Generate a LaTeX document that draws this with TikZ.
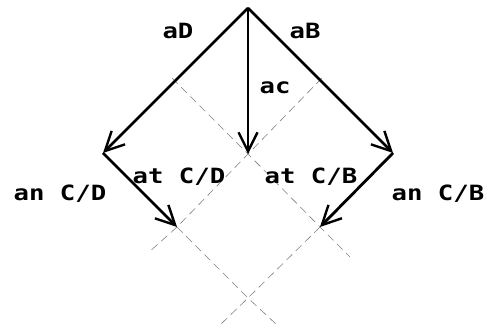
\documentclass[tikz,border=0pt]{standalone}
\usepackage{fontspec}
\usepackage{tikz}
\usetikzlibrary{arrows.meta}
\newfontfamily\cadfont[FakeStretch=1.22]{DejaVu Sans Mono Bold}

\begin{document}
\begin{tikzpicture}[x=1pt,y=-1pt,
        vec/.style={line width=2.8pt,-{Straight Barb[length=19pt,width=19pt,line width=2.4pt]}},
        grid/.style={gray,line width=0.6pt,dash pattern=on 8pt off 5pt},
        lbl/.style={font=\cadfont\fontsize{21}{21}\selectfont,inner sep=0pt}]
        \useasboundingbox (0,0) rectangle (488,331);
        \coordinate (O) at (248,8);
        \coordinate (D) at (103,153);
        \coordinate (C) at (248,154);
        \coordinate (B) at (393,153);
        \coordinate (nD) at (177,227);
        \coordinate (nB) at (320,227);
        \coordinate (X) at (248,298);
        % dashed grid
        \coordinate (g1) at (172,78);
        \coordinate (g2) at (350,257);
        \coordinate (g3) at (322,78);
        \coordinate (g4) at (148,253);
        \coordinate (g5) at (277,325);
        \coordinate (g6) at (220,325);
        \draw[grid] (g1) -- (C) -- (nB) -- (g2);
        \draw[grid] (g3) -- (C) -- (nD) -- (g4);
        \draw[grid] (nD) -- (X) -- (g5);
        \draw[grid] (nB) -- (X) -- (g6);
        % vectors
        \draw[vec] (O) -- (D);
        \draw[vec] (O) -- (B);
        \draw[vec,line width=2.2pt] (O) -- (C);
        \draw[vec] (D) -- (nD);
        \draw[vec] (B) -- (nB);
        \node[lbl] (aD) at (178,31) {aD};
        \node[lbl] (aB) at (305,31) {aB};
        \node[lbl] (ac) at (275,88) {ac};
        \node[lbl] (atD) at (179,177) {at C/D};
        \node[lbl] (atB) at (311,177) {at C/B};
        \node[lbl] (anD) at (60,194) {an  C/D};
        \node[lbl] (anB) at (438,194) {an  C/B};
    \end{tikzpicture}
\end{document}
